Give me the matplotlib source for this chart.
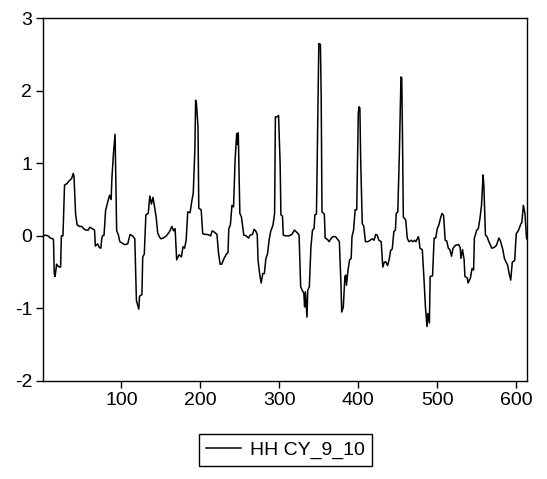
import matplotlib
matplotlib.use('Agg')
import matplotlib.pyplot as plt

plt.rcParams['font.family'] = ['Liberation Sans', 'DejaVu Sans']
plt.rcParams['axes.unicode_minus'] = False

# observaciones (eje x) y valores
obs = [1, 4, 7, 10, 13, 14, 15, 16, 18, 20, 22, 23, 24, 26, 28, 31, 34, 37, 39, 40,
       42, 43, 44, 47, 50, 52, 55, 58, 60, 63, 66, 67, 70, 72, 74, 75, 76, 78, 80, 82,
       83, 85, 87, 88, 90, 92, 94, 96, 98, 101, 104, 108, 111, 114, 117, 119, 121, 122, 123, 126,
       127, 129, 131, 134, 136, 138, 140, 142, 144, 146, 148, 150, 153, 157, 161, 164, 166, 168, 170, 173,
       176, 178, 180, 182, 184, 187, 189, 191, 193, 194, 195, 197, 198, 201, 203, 206, 209, 213, 215, 218,
       221, 223, 225, 227, 230, 233, 235, 236, 238, 240, 242, 244, 246, 247, 248, 250, 252, 255, 258, 261,
       263, 266, 268, 270, 272, 273, 275, 277, 279, 281, 283, 285, 287, 289, 292, 294, 295, 297, 299, 301,
       302, 304, 305, 308, 312, 316, 319, 323, 325, 327, 329, 331, 332, 333, 335, 336, 338, 340, 342, 344,
       345, 347, 349, 350, 352, 353, 354, 357, 358, 361, 363, 366, 368, 371, 374, 376, 378, 379, 381, 383,
       384, 385, 387, 389, 391, 392, 394, 396, 398, 400, 401, 402, 403, 405, 407, 409, 412, 415, 418, 420,
       422, 424, 426, 429, 431, 433, 435, 437, 439, 441, 443, 445, 447, 448, 450, 452, 454, 455, 456, 457,
       460, 462, 464, 467, 469, 471, 473, 476, 477, 478, 481, 483, 485, 487, 488, 490, 491, 494, 496, 498,
       500, 502, 504, 506, 508, 510, 512, 514, 516, 518, 520, 523, 527, 529, 530, 532, 534, 535, 538, 539,
       542, 544, 546, 547, 550, 552, 554, 556, 558, 559, 561, 563, 565, 569, 572, 575, 578, 580, 583, 585,
       587, 589, 591, 593, 595, 598, 600, 603, 606, 607, 609, 611, 613, 614]

valores = [0.00, 0.01, 0.00, -0.03, -0.04, -0.05, -0.52, -0.56, -0.39, -0.42, -0.43, -0.43, 0.00, 0.00, 0.70, 0.72, 0.76, 0.79, 0.86, 0.82,
           0.30, 0.22, 0.15, 0.13, 0.13, 0.10, 0.08, 0.08, 0.12, 0.10, 0.08, -0.14, -0.11, -0.16, -0.17, -0.05, 0.00, 0.01, 0.35, 0.44,
           0.48, 0.56, 0.50, 0.80, 1.14, 1.40, 0.07, 0.02, -0.08, -0.10, -0.12, -0.11, 0.02, 0.00, -0.04, -0.89, -0.97, -1.01, -0.83, -0.81,
           -0.29, -0.25, 0.29, 0.31, 0.55, 0.44, 0.53, 0.40, 0.26, 0.04, -0.01, -0.04, -0.03, 0.00, 0.06, 0.13, 0.07, 0.10, -0.33, -0.26,
           -0.29, -0.15, -0.17, -0.06, 0.33, 0.32, 0.47, 0.59, 1.18, 1.87, 1.83, 1.50, 0.38, 0.36, 0.03, 0.02, 0.02, 0.00, 0.07, 0.05,
           0.02, -0.24, -0.39, -0.39, -0.31, -0.25, -0.23, 0.10, 0.15, 0.42, 0.40, 1.05, 1.41, 1.26, 1.42, 0.31, 0.26, 0.01, 0.00, -0.03,
           0.01, 0.02, 0.09, 0.07, 0.02, -0.33, -0.52, -0.65, -0.52, -0.52, -0.31, -0.25, -0.06, 0.06, 0.15, 0.31, 1.64, 1.64, 1.66, 1.00,
           0.29, 0.27, 0.01, 0.00, 0.00, 0.02, 0.08, 0.04, 0.01, -0.70, -0.75, -0.79, -0.98, -0.77, -1.12, -0.75, -0.70, -0.15, 0.08, 0.10,
           0.29, 0.30, 1.92, 2.65, 2.64, 1.92, 0.33, 0.30, -0.03, -0.05, -0.08, -0.03, -0.01, -0.01, -0.05, -0.08, -0.66, -1.05, -0.98, -0.56,
           -0.54, -0.68, -0.47, -0.33, -0.31, -0.01, 0.08, 0.36, 0.36, 1.70, 1.78, 1.76, 1.05, 0.17, 0.13, -0.08, -0.08, -0.06, -0.04, -0.06,
           0.02, 0.01, -0.06, -0.08, -0.43, -0.36, -0.36, -0.41, -0.33, -0.20, -0.18, 0.06, 0.08, 0.31, 0.33, 1.14, 2.19, 2.18, 1.32, 0.26,
           0.22, -0.03, -0.08, -0.06, -0.08, -0.06, -0.08, -0.01, -0.06, -0.17, -0.19, -0.56, -0.98, -1.25, -1.07, -1.20, -0.56, -0.55, -0.03, -0.03,
           0.10, 0.15, 0.24, 0.31, 0.28, -0.06, -0.07, -0.17, -0.19, -0.28, -0.17, -0.13, -0.12, -0.16, -0.31, -0.19, -0.33, -0.56, -0.58, -0.65,
           -0.58, -0.45, -0.47, -0.03, 0.08, 0.10, 0.24, 0.42, 0.84, 0.68, 0.01, -0.01, -0.07, -0.17, -0.16, -0.13, -0.03, -0.07, -0.19, -0.31,
           -0.36, -0.40, -0.52, -0.61, -0.36, -0.34, 0.03, 0.08, 0.17, 0.18, 0.42, 0.31, -0.03, -0.05]

serie = 'HH CY_9_10'
x_ticks = [100, 200, 300, 400, 500, 600]
y_ticks = [-2, -1, 0, 1, 2, 3]

fig = plt.figure(figsize=(5.47, 4.79), dpi=100)
ax = fig.add_axes([0.079, 0.2046, 0.885, 0.7574])
ax.plot(obs, valores, color='black', linewidth=1.1, label=serie)

ax.set_xlim(1, 614)
ax.set_ylim(-2, 3)
ax.set_xticks(x_ticks)
ax.set_yticks(y_ticks)
ax.tick_params(direction='out', length=5, width=1, labelsize=14, top=False, right=False, pad=3)
for s in ax.spines.values():
    s.set_linewidth(1)

leg = fig.legend(loc='center', bbox_to_anchor=(0.522, 0.0605), fontsize=14,
                 fancybox=False, edgecolor='black', handlelength=1.8, borderpad=0.35,
                 handletextpad=0.45, framealpha=1)
leg.get_frame().set_linewidth(1)

fig.savefig('out.png', dpi=100)
